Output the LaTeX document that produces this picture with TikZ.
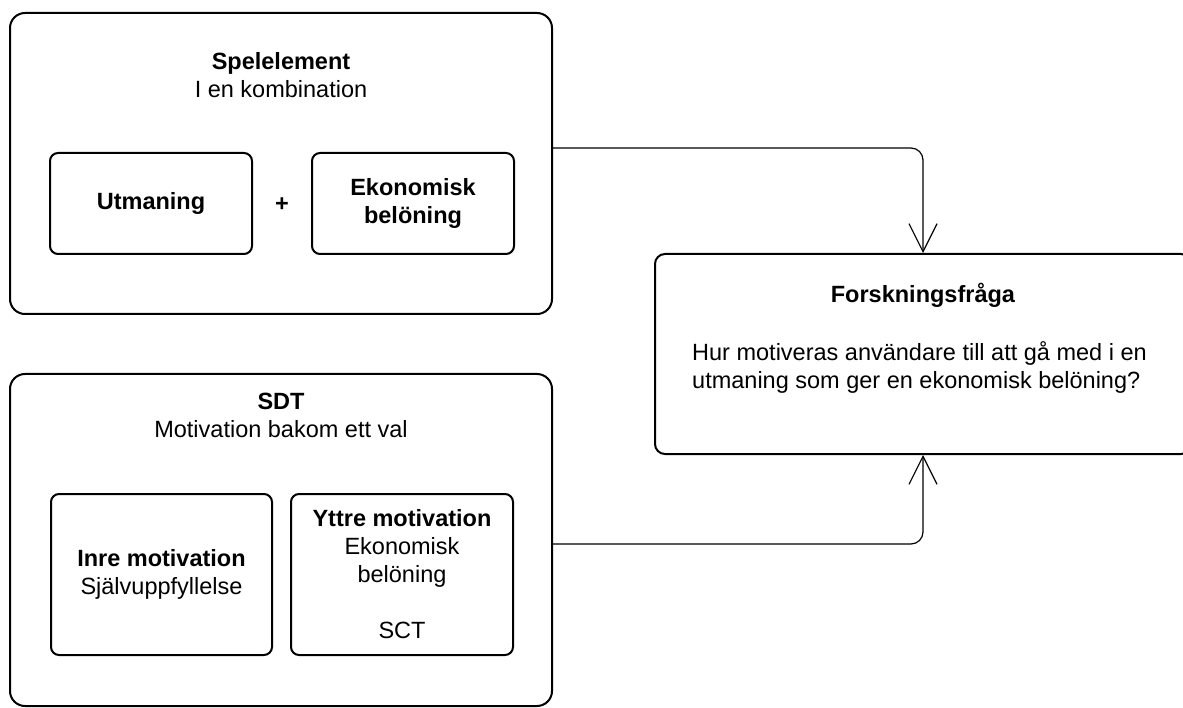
\documentclass[tikz,border=0pt]{standalone}
\usepackage{fontspec}
\setmainfont{Liberation Sans}
\usetikzlibrary{arrows.meta}

\begin{document}
\begin{tikzpicture}[x=1pt,y=-1pt,
        every node/.style={font=\fontsize{23.5}{28}\selectfont, inner sep=0pt},
        outerbox/.style={draw, line width=2pt, rounded corners=15pt},
        innerbox/.style={draw, line width=2pt, rounded corners=8pt, align=center},
        conn/.style={line width=1.2pt, rounded corners=12pt,
            -{Straight Barb[length=28pt,width=28pt,line width=1.2pt]}}]
    \useasboundingbox (0,0) rectangle (1183,708);

    % spelelement
    \node[outerbox, minimum width=542pt, minimum height=301pt] (spel) at (281,163.5) {};
    \node[align=center] (speltitle) at (281,75) {\textbf{Spelelement}\\I en kombination};
    \node[innerbox, minimum width=202pt, minimum height=101pt] (utm) at (151,203.5) {\textbf{Utmaning}};
    \node (plus) at (282,205) {\textbf{+}};
    \node[innerbox, minimum width=202pt, minimum height=101pt] (ekon) at (413,203.5) {\textbf{Ekonomisk}\\\textbf{belöning}};

    % sdt
    \node[outerbox, minimum width=542pt, minimum height=332pt] (sdt) at (281,540) {};
    \node[align=center] (sdttitle) at (281,415.5) {\textbf{SDT}\\Motivation bakom ett val};
    \node[innerbox, minimum width=221pt, minimum height=161pt] (inre) at (161.5,574.5)
        {\textbf{Inre motivation}\\Självuppfyllelse};
    \node[innerbox, minimum width=222pt, minimum height=161pt] (yttre) at (402,574.5)
        {\textbf{Yttre motivation}\\Ekonomisk\\belöning\\[28pt]SCT};

    % forskningsfraga
    \node[outerbox, rounded corners=10pt, minimum width=536pt, minimum height=200pt] (fraga) at (923,354) {};
    \node (fragatitle) at (923,295) {\textbf{Forskningsfråga}};
    \node[anchor=west, align=left] (fragatext) at (692,367.5)
        {Hur motiveras användare till att gå med i en\\utmaning som ger en ekonomisk belöning?};

    \draw[conn] ([yshift=15.5pt]spel.east) -| (fraga.north);
    \draw[conn] ([yshift=-4pt]sdt.east) -| (fraga.south);
\end{tikzpicture}
\end{document}
